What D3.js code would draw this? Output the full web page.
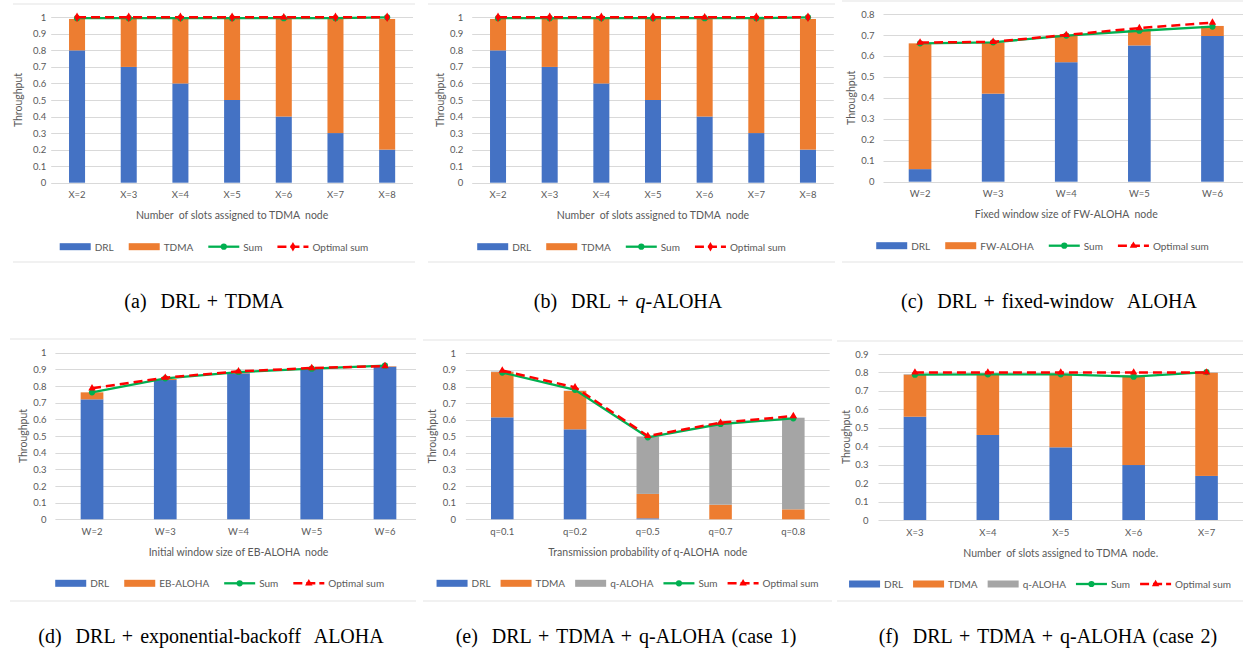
<!DOCTYPE html>
<html>
<head>
<meta charset="utf-8">
<script src="https://cdn.jsdelivr.net/npm/d3@7"></script>
<style>
  body { margin: 0; background: #fff; }
  svg { display: block; }
  .lbl { font-family: Lato, "Open Sans", sans-serif; fill: #595959; }
  .cap { font-family: "Liberation Serif", "Times New Roman", serif; fill: #000; font-size: 20px; word-spacing: 2px; white-space: pre; }
</style>
</head>
<body>
<svg id="fig" width="1243" height="654"></svg>
<script>
// ---- (a) DRL + TDMA ----
const catA  = ["X=2", "X=3", "X=4", "X=5", "X=6", "X=7", "X=8"];
const drlA  = [0.80, 0.70, 0.60, 0.50, 0.40, 0.30, 0.20];
const tdmaA = [0.19, 0.29, 0.39, 0.49, 0.59, 0.69, 0.79];
const sumA  = [0.995, 0.995, 0.995, 0.995, 0.995, 0.995, 1.0];
const optA  = [1, 1, 1, 1, 1, 1, 1];

// ---- (b) DRL + q-ALOHA ----
const catB  = ["X=2", "X=3", "X=4", "X=5", "X=6", "X=7", "X=8"];
const drlB  = [0.80, 0.70, 0.60, 0.50, 0.40, 0.30, 0.20];
const tdmaB = [0.19, 0.29, 0.39, 0.49, 0.59, 0.69, 0.79];
const sumB  = [0.995, 0.995, 0.995, 0.995, 0.995, 0.995, 1.0];
const optB  = [1, 1, 1, 1, 1, 1, 1];

// ---- (c) DRL + fixed-window ALOHA ----
const catC  = ["W=2", "W=3", "W=4", "W=5", "W=6"];
const drlC  = [0.060, 0.420, 0.570, 0.650, 0.695];
const fwC   = [0.600, 0.245, 0.130, 0.072, 0.048];
const sumC  = [0.660, 0.665, 0.697, 0.720, 0.740];
const optC  = [0.664, 0.667, 0.700, 0.733, 0.759];

// ---- (d) DRL + exponential-backoff ALOHA ----
const catD  = ["W=2", "W=3", "W=4", "W=5", "W=6"];
const drlD  = [0.720, 0.836, 0.876, 0.902, 0.916];
const ebD   = [0.042, 0.006, 0.005, 0.003, 0.003];
const sumD  = [0.762, 0.846, 0.884, 0.904, 0.922];
const optD  = [0.786, 0.850, 0.888, 0.908, 0.920];

// ---- (e) DRL + TDMA + q-ALOHA (case 1) ----
const catE  = ["q=0.1", "q=0.2", "q=0.5", "q=0.7", "q=0.8"];
const drlE  = [0.614, 0.542, 0.006, 0.000, 0.000];
const tdmaE = [0.273, 0.231, 0.147, 0.088, 0.060];
const qE    = [0.003, 0.002, 0.345, 0.490, 0.552];
const sumE  = [0.884, 0.780, 0.494, 0.574, 0.608];
const optE  = [0.896, 0.795, 0.502, 0.582, 0.622];

// ---- (f) DRL + TDMA + q-ALOHA (case 2) ----
const catF  = ["X=3", "X=4", "X=5", "X=6", "X=7"];
const drlF  = [0.560, 0.461, 0.394, 0.298, 0.239];
const tdmaF = [0.228, 0.331, 0.398, 0.486, 0.559];
const qF    = [0.003, 0.002, 0.002, 0.002, 0.002];
const sumF  = [0.788, 0.790, 0.790, 0.777, 0.802];
const optF  = [0.800, 0.800, 0.800, 0.800, 0.800];

const COL = { drl: "#4472C4", tdma: "#ED7D31", gray: "#A5A5A5", sum: "#00B050", opt: "#FF0000", grid: "#D9D9D9", frame: "#E3E3E3" };

const panels = [
  { frame: [13, 4, 415, 262], plot: [51.2, 17.3, 413, 182.7], yMax: 1, tickGap: 5, titleX: 18.3,
    cats: catA, stacks: [["DRL", drlA, COL.drl], ["TDMA", tdmaA, COL.tdma]], sum: sumA, opt: optA,
    optSym: ["diamond", "diamond", "diamond", "diamond", "triangle", "diamond", "diamond"], legSym: "diamond",
    xTitle: "Number  of slots assigned to TDMA  node", legendGap: 15 },
  { frame: [428, 4, 835, 262], plot: [472.2, 17.3, 833.8, 182.7], yMax: 1, tickGap: 9, titleX: 440,
    cats: catB, stacks: [["DRL", drlB, COL.drl], ["TDMA", tdmaB, COL.tdma]], sum: sumB, opt: optB,
    optSym: ["diamond", "diamond", "diamond", "diamond", "triangle", "diamond", "diamond"], legSym: "diamond",
    xTitle: "Number  of slots assigned to TDMA  node", legendGap: 15 },
  { frame: [842, 1, 1243, 262], plot: [883.5, 14, 1249, 181.7], yMax: 0.8, tickGap: 9, titleX: 850.7,
    cats: catC, stacks: [["DRL", drlC, COL.drl], ["FW-ALOHA", fwC, COL.tdma]], sum: sumC, opt: optC,
    optSym: null, legSym: "triangle",
    xTitle: "Fixed window size of FW-ALOHA  node", legendGap: 15 },
  { frame: [10, 339, 416, 601], plot: [55.4, 352.7, 421.6, 519.3], yMax: 1, tickGap: 9, titleX: 22.7,
    cats: catD, stacks: [["DRL", drlD, COL.drl], ["EB-ALOHA", ebD, COL.tdma]], sum: sumD, opt: optD,
    optSym: null, legSym: "triangle",
    xTitle: "Initial window size of EB-ALOHA  node", legendGap: 15, legendCx: 219.7 },
  { frame: [423, 340, 832, 601], plot: [465.9, 353.3, 829.7, 519.3], yMax: 1, tickGap: 10, titleX: 432.3,
    cats: catE, stacks: [["DRL", drlE, COL.drl], ["TDMA", tdmaE, COL.tdma], ["q-ALOHA", qE, COL.gray]], sum: sumE, opt: optE,
    optSym: null, legSym: "triangle",
    xTitle: "Transmission probability of q-ALOHA  node", legendGap: 10 },
  { frame: [837, 341, 1243, 601], plot: [878.5, 354, 1243, 520], yMax: 0.9, tickGap: 10, titleX: 845.7,
    cats: catF, stacks: [["DRL", drlF, COL.drl], ["TDMA", tdmaF, COL.tdma], ["q-ALOHA", qF, COL.gray]], sum: sumF, opt: optF,
    optSym: null, legSym: "triangle",
    xTitle: "Number  of slots assigned to TDMA  node.", legendGap: 10 }
];

const captions = [
  { x: 204, y: 308, parts: [["(a)  DRL + TDMA", false]] },
  { x: 628, y: 308, parts: [["(b)  DRL + ", false], ["q", true], ["-ALOHA", false]] },
  { x: 1049, y: 308, parts: [["(c)  DRL + fixed-window  ALOHA", false]] },
  { x: 211, y: 643, parts: [["(d)  DRL + exponential-backoff  ALOHA", false]] },
  { x: 626, y: 643, parts: [["(e)  DRL + TDMA + q-ALOHA (case 1)", false]] },
  { x: 1048, y: 643, parts: [["(f)  DRL + TDMA + q-ALOHA (case 2)", false]] }
];

const svg = d3.select("#fig");
const symType = { circle: d3.symbolCircle, diamond: d3.symbolDiamond, triangle: d3.symbolTriangle };
const symSize = { circle: 30, diamond: 26, triangle: 24 };

panels.forEach((p, pi) => {
  const [fx0, fy0, fx1, fy1] = p.frame;
  const [px0, py0, px1, py1] = p.plot;

  const clipId = "clip" + pi;
  svg.append("clipPath").attr("id", clipId)
    .append("rect").attr("x", fx0 - 3).attr("y", fy0 - 3).attr("width", fx1 - fx0 + 3).attr("height", fy1 - fy0 + 6);

  const g = svg.append("g").attr("clip-path", `url(#${clipId})`);

  // chart area edges
  [fy0, fy1].forEach(yy => g.append("line")
    .attr("x1", fx0).attr("x2", fx1).attr("y1", yy).attr("y2", yy)
    .attr("stroke", COL.frame).attr("stroke-width", 1));

  const x = d3.scaleBand().domain(p.cats).range([px0, px1]).paddingInner(0.69).paddingOuter(0.345);
  const y = d3.scaleLinear().domain([0, p.yMax]).range([py1, py0]);
  const ticks = y.ticks(Math.round(p.yMax * 10));

  // gridlines
  g.append("g").selectAll("line").data(ticks).join("line")
    .attr("x1", px0).attr("x2", px1)
    .attr("y1", d => Math.round(y(d)) + 0.5).attr("y2", d => Math.round(y(d)) + 0.5)
    .attr("stroke", COL.grid).attr("stroke-width", 1);

  // y tick labels
  const yAxis = g.append("g").attr("transform", `translate(${px0},0)`)
    .call(d3.axisLeft(y).tickValues(ticks).tickSize(0).tickPadding(p.tickGap).tickFormat(d3.format("~g")));
  yAxis.select(".domain").remove();
  yAxis.selectAll("text").attr("class", "lbl").attr("fill", "#595959").style("font-size", "9.5px");

  // x tick labels
  const xAxis = g.append("g").attr("transform", `translate(0,${py1})`)
    .call(d3.axisBottom(x).tickSize(0).tickPadding(9));
  xAxis.select(".domain").remove();
  xAxis.selectAll("text").attr("class", "lbl").attr("fill", "#595959").style("font-size", "9.5px");

  // stacked bars
  const rows = p.cats.map((c, i) => {
    const r = { cat: c };
    p.stacks.forEach(s => { r[s[0]] = s[1][i]; });
    return r;
  });
  const series = d3.stack().keys(p.stacks.map(s => s[0]))(rows);
  series.forEach((ser, si) => {
    g.append("g").attr("fill", p.stacks[si][2]).selectAll("rect").data(ser).join("rect")
      .attr("x", d => x(d.data.cat))
      .attr("width", x.bandwidth())
      .attr("y", d => y(d[1]))
      .attr("height", d => Math.max(0, y(d[0]) - y(d[1])));
  });

  const cx = (d, i) => x(p.cats[i]) + x.bandwidth() / 2;
  const line = d3.line().x(cx).y(d => y(d));

  // Sum
  g.append("path").datum(p.sum).attr("d", line)
    .attr("fill", "none").attr("stroke", COL.sum).attr("stroke-width", 2.3);
  g.append("g").selectAll("path").data(p.sum).join("path")
    .attr("transform", (d, i) => `translate(${cx(d, i)},${y(d)})`)
    .attr("d", d3.symbol(d3.symbolCircle, symSize.circle)).attr("fill", COL.sum);

  // Optimal sum
  g.append("path").datum(p.opt).attr("d", line)
    .attr("fill", "none").attr("stroke", COL.opt).attr("stroke-width", 2.5).attr("stroke-dasharray", "9,5");
  g.append("g").selectAll("path").data(p.opt).join("path")
    .attr("transform", (d, i) => `translate(${cx(d, i)},${y(d)})`)
    .attr("d", (d, i) => {
      const s = p.optSym ? p.optSym[i] : p.legSym;
      return d3.symbol(symType[s], symSize[s])();
    })
    .attr("fill", COL.opt);

  // axis titles
  g.append("text").attr("class", "lbl")
    .attr("transform", `translate(${p.titleX},${(py0 + py1) / 2}) rotate(-90)`)
    .attr("text-anchor", "middle").attr("dominant-baseline", "central")
    .style("font-size", "10.5px").text("Throughput");
  g.append("text").attr("class", "lbl")
    .attr("x", (px0 + px1) / 2).attr("y", py1 + 32.5)
    .attr("text-anchor", "middle").attr("dominant-baseline", "central")
    .style("font-size", "10.5px").style("white-space", "pre").text(p.xTitle);

  // legend
  const items = p.stacks.map(s => ({ name: s[0], kind: "bar", color: s[2] }))
    .concat([{ name: "Sum", kind: "sum" }, { name: "Optimal sum", kind: "opt" }]);
  const leg = g.append("g");
  const ly = py1 + 64;
  let off = 0;
  items.forEach(it => {
    const ig = leg.append("g").attr("transform", `translate(${off},0)`);
    if (it.kind === "bar") {
      ig.append("rect").attr("x", 0).attr("y", ly - 3.5).attr("width", 31).attr("height", 7).attr("fill", it.color);
    } else if (it.kind === "sum") {
      ig.append("line").attr("x1", 0).attr("x2", 31).attr("y1", ly).attr("y2", ly)
        .attr("stroke", COL.sum).attr("stroke-width", 2.3);
      ig.append("path").attr("transform", `translate(15.5,${ly})`)
        .attr("d", d3.symbol(d3.symbolCircle, symSize.circle)).attr("fill", COL.sum);
    } else {
      ig.append("line").attr("x1", 0).attr("x2", 31).attr("y1", ly).attr("y2", ly)
        .attr("stroke", COL.opt).attr("stroke-width", 2.5).attr("stroke-dasharray", "9,4");
      ig.append("path").attr("transform", `translate(15.5,${ly})`)
        .attr("d", d3.symbol(symType[p.legSym], symSize[p.legSym])).attr("fill", COL.opt);
    }
    const t = ig.append("text").attr("class", "lbl").attr("x", 35).attr("y", ly)
      .attr("dominant-baseline", "central").style("font-size", "10px").text(it.name);
    off += 35 + t.node().getComputedTextLength() + p.legendGap;
  });
  const legW = off - p.legendGap;
  const lcx = p.legendCx !== undefined ? p.legendCx : (fx0 + fx1) / 2;
  leg.attr("transform", `translate(${lcx - legW / 2},0)`);
});

// sub-figure captions
captions.forEach(c => {
  const t = svg.append("text").attr("class", "cap").attr("x", c.x).attr("y", c.y).attr("text-anchor", "middle");
  c.parts.forEach(([s, it]) => t.append("tspan").style("font-style", it ? "italic" : "normal").text(s));
});
</script>
</body>
</html>
